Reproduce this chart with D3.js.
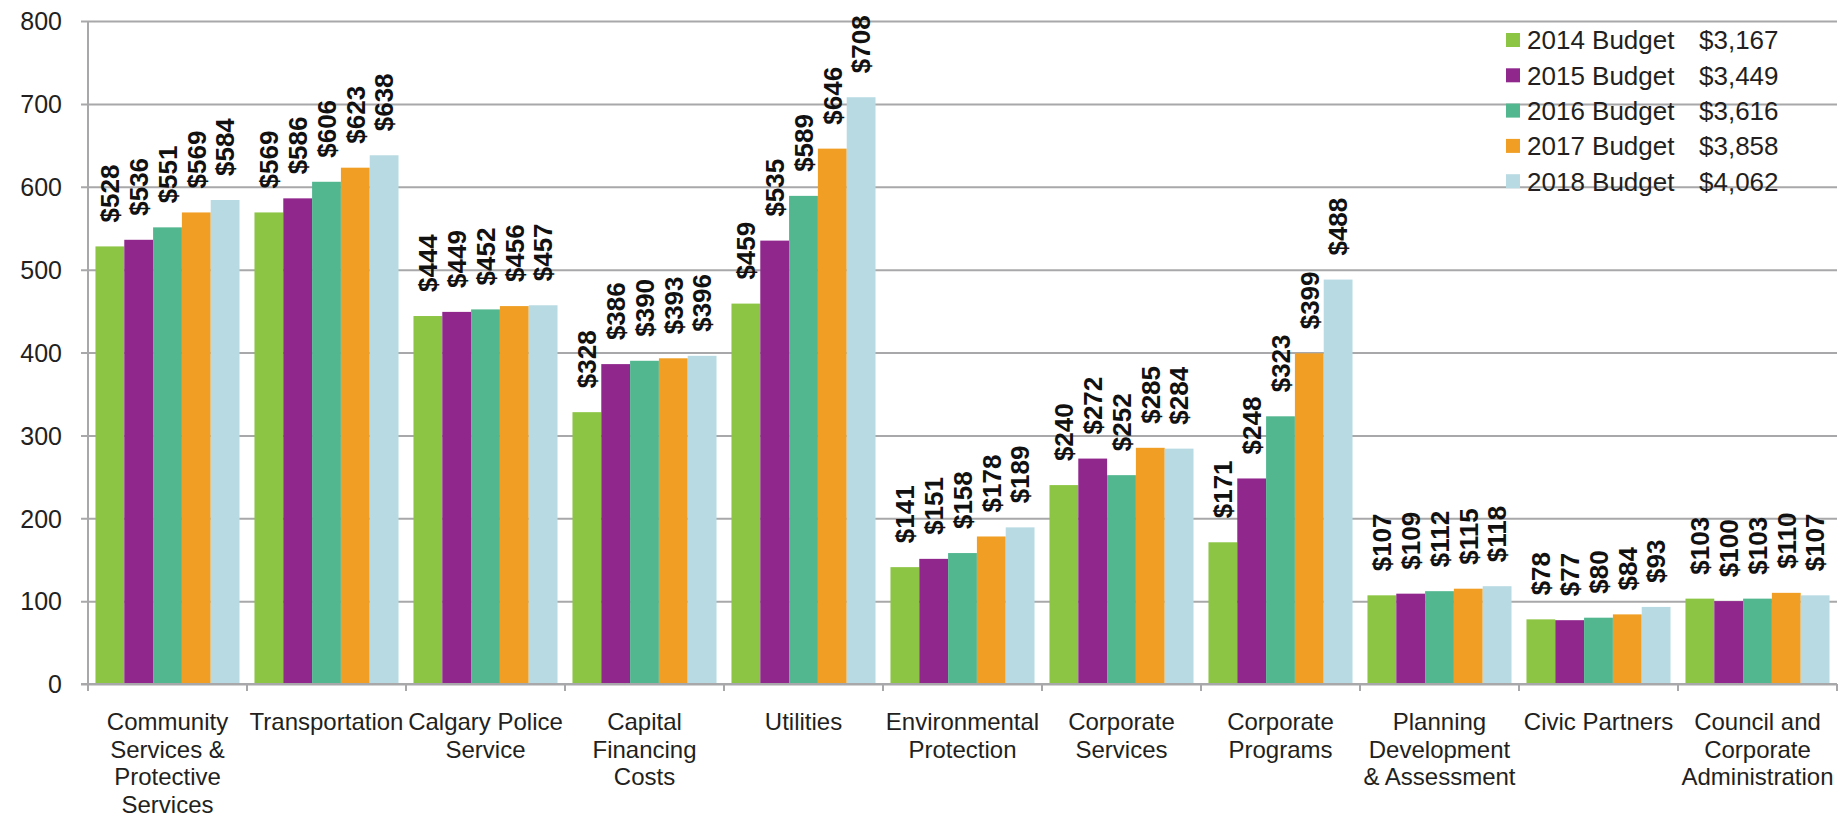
<!DOCTYPE html>
<html>
<head>
<meta charset="utf-8">
<script src="https://cdn.jsdelivr.net/npm/d3@7/dist/d3.min.js"></script>
<style>
  html, body { margin: 0; padding: 0; background: #ffffff; }
  svg { display: block; font-family: "Liberation Sans", Arial, sans-serif; }
</style>
</head>
<body>
<svg id="chart" width="1845" height="816"></svg>
<script>
const categories = [
  ["Community", "Services &", "Protective", "Services"],
  ["Transportation"],
  ["Calgary Police", "Service"],
  ["Capital", "Financing", "Costs"],
  ["Utilities"],
  ["Environmental", "Protection"],
  ["Corporate", "Services"],
  ["Corporate", "Programs"],
  ["Planning", "Development", "& Assessment"],
  ["Civic Partners"],
  ["Council and", "Corporate", "Administration"]
];
const seriesNames = ["2014 Budget", "2015 Budget", "2016 Budget", "2017 Budget", "2018 Budget"];
const seriesTotals = ["$3,167", "$3,449", "$3,616", "$3,858", "$4,062"];
const budget2014 = [528, 569, 444, 328, 459, 141, 240, 171, 107, 78, 103];
const budget2015 = [536, 586, 449, 386, 535, 151, 272, 248, 109, 77, 100];
const budget2016 = [551, 606, 452, 390, 589, 158, 252, 323, 112, 80, 103];
const budget2017 = [569, 623, 456, 393, 646, 178, 285, 399, 115, 84, 110];
const budget2018 = [584, 638, 457, 396, 708, 189, 284, 488, 118, 93, 107];
const yTicks = [0, 100, 200, 300, 400, 500, 600, 700, 800];
const colors = ["#8cc443", "#90278d", "#52b68f", "#f09f24", "#b8dbe3"];

(function () {
const series = [budget2014, budget2015, budget2016, budget2017, budget2018];

const svg = d3.select("#chart");
const pLeft = 88, pRight = 1837, pTop = 21, pBottom = 684;
const gridColor = "#a8a8aa";
const textColor = "#231f20";

const x0 = d3.scaleBand()
  .domain(d3.range(categories.length))
  .range([pLeft, pRight])
  .paddingInner(0.094)
  .paddingOuter(0.047);
const x1 = d3.scaleBand()
  .domain(d3.range(series.length))
  .range([0, x0.bandwidth()]);
const y = d3.scaleLinear().domain([0, 800]).range([pBottom, pTop]);

// gridlines
const yAxis = d3.axisLeft(y).tickValues(yTicks).tickSize(-(pRight - pLeft)).tickSizeOuter(0).tickPadding(26);
const gy = svg.append("g").attr("transform", `translate(${pLeft},0)`).call(yAxis);
gy.select(".domain").remove();
gy.selectAll(".tick line").attr("stroke", gridColor).attr("stroke-width", 2).attr("x1", -7);
gy.selectAll(".tick text").attr("fill", textColor).style("font-size", "25px").attr("dy", "0.35em");

// y axis line
svg.append("line").attr("x1", pLeft).attr("x2", pLeft).attr("y1", pTop).attr("y2", pBottom)
  .attr("stroke", gridColor).attr("stroke-width", 2);

// bars
const groups = svg.append("g").selectAll("g").data(categories).join("g")
  .attr("transform", (d, i) => `translate(${x0(i)},0)`);
groups.selectAll("rect").data((d, i) => series.map((s, j) => ({ j, v: s[i] }))).join("rect")
  .attr("x", d => x1(d.j))
  .attr("width", x1.bandwidth())
  .attr("y", d => y(d.v))
  .attr("height", d => y(0) - y(d.v))
  .attr("fill", d => colors[d.j]);

// data labels
groups.selectAll("text.lbl").data((d, i) => series.map((s, j) => ({ j, v: s[i] }))).join("text")
  .attr("class", "lbl")
  .attr("transform", d => `translate(${x1(d.j) + x1.bandwidth() / 2},${y(d.v) - 24}) rotate(-90)`)
  .attr("dy", "0.36em")
  .attr("fill", "#111")
  .style("font-size", "26px")
  .style("font-weight", "bold")
  .text(d => "$" + d.v);

// x axis
const xAxis = d3.axisBottom(x0).tickSize(0).tickFormat("");
const gx = svg.append("g").attr("transform", `translate(0,${pBottom})`).call(xAxis);
gx.select(".domain").remove();
svg.append("line").attr("x1", pLeft - 7).attr("x2", pRight).attr("y1", pBottom).attr("y2", pBottom)
  .attr("stroke", gridColor).attr("stroke-width", 2);
const step = x0.step();
const boundaries = d3.range(categories.length + 1).map(i => x0(0) - x0.paddingOuter() * step + i * step);
svg.append("g").selectAll("line").data(boundaries).join("line")
  .attr("x1", d => d).attr("x2", d => d)
  .attr("y1", pBottom).attr("y2", pBottom + 7)
  .attr("stroke", gridColor).attr("stroke-width", 2);

const labels = svg.append("g").selectAll("text").data(categories).join("text")
  .attr("text-anchor", "middle")
  .attr("fill", textColor)
  .style("font-size", "24px")
  .attr("x", (d, i) => x0(i) + x0.bandwidth() / 2)
  .attr("y", 730);
labels.selectAll("tspan").data(d => d).join("tspan")
  .attr("x", function () { return d3.select(this.parentNode).attr("x"); })
  .attr("dy", (d, k) => k === 0 ? 0 : 27.5)
  .text(d => d);

// legend
const legend = svg.append("g").selectAll("g").data(seriesNames).join("g")
  .attr("transform", (d, i) => `translate(1506,${40 + i * 35.3})`);
legend.append("rect").attr("x", 0).attr("y", -7).attr("width", 14).attr("height", 14)
  .attr("fill", (d, i) => colors[i]);
legend.append("text").attr("x", 21).attr("dy", "0.36em").attr("fill", textColor)
  .style("font-size", "26px").text(d => d);
legend.append("text").attr("x", 193).attr("dy", "0.36em").attr("fill", textColor)
  .style("font-size", "26px").text((d, i) => seriesTotals[i]);
})();
</script>
</body>
</html>
